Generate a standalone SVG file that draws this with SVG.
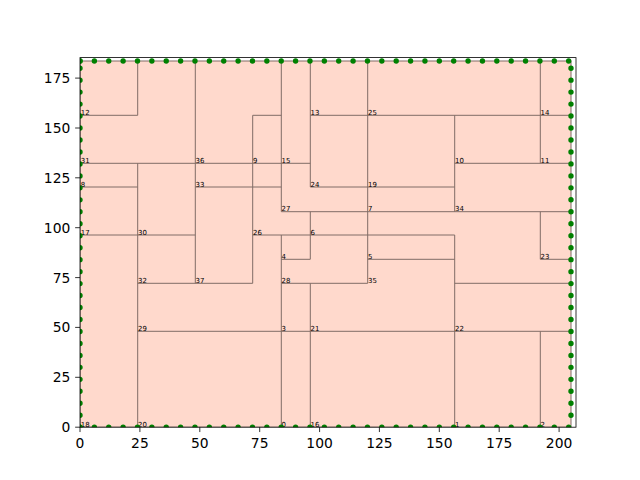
<svg xmlns="http://www.w3.org/2000/svg" width="640" height="480" viewBox="0 0 640 480">
<style>
.lbl{font-family:"DejaVu Sans",sans-serif;font-size:6.94px;fill:#000}
.tick{font-family:"DejaVu Sans",sans-serif;font-size:13.89px;fill:#000}
.wall{fill:none;stroke:#806C66;stroke-width:1}
.dots{fill:none;stroke:#008000;stroke-width:5.4;stroke-linecap:round}
</style>
<defs>
<clipPath id="axclip"><rect x="80" y="57.6" width="496" height="369.6"/></clipPath>
</defs>
<rect width="640" height="480" fill="#fff"/>
<g id="plan" clip-path="url(#axclip)">
<rect id="floor" x="80" y="61" width="491" height="366.2" fill="#FFD9CC" stroke="#806C66" stroke-width="1"/>
<path class="wall" d="M80 115.3H137.7M252.7 115.3H281.3M310.3 115.3H571
M80 163.3H310.3M454.7 163.3H571
M80 187H137.7M195.3 187H281.3M310.3 187H454.7
M281.3 211.7H571
M80 235H195.3M252.7 235H454.7
M281.3 259.3H310.3M367.7 259.3H454.7M540.3 259.3H571
M137.7 283.3H252.7M281.3 283.3H367.7M454.7 283.3H571
M137.7 331.3H571
M137.7 61V115.3M137.7 163.3V427.2
M195.3 61V283.3
M252.7 115.3V283.3
M281.3 61V211.7M281.3 235V427.2
M310.3 61V187M310.3 211.7V259.3M310.3 283.3V427.2
M367.7 61V283.3
M454.7 115.3V211.7M454.7 235V427.2
M540.3 61V163.3M540.3 211.7V259.3M540.3 331.3V427.2"/>
<g id="labels">
<g id="n12"><text class="lbl" x="80.8" y="115">12</text></g>
<g id="n31"><text class="lbl" x="80.8" y="163">31</text></g>
<g id="n8"><text class="lbl" x="80.8" y="186.7">8</text></g>
<g id="n17"><text class="lbl" x="80.8" y="234.7">17</text></g>
<g id="n18"><text class="lbl" x="80.8" y="426.8">18</text></g>
<g id="n36"><text class="lbl" x="195.6" y="163">36</text></g>
<g id="n33"><text class="lbl" x="195.6" y="186.7">33</text></g>
<g id="n30"><text class="lbl" x="138" y="234.7">30</text></g>
<g id="n32"><text class="lbl" x="138" y="283">32</text></g>
<g id="n37"><text class="lbl" x="195.6" y="283">37</text></g>
<g id="n29"><text class="lbl" x="138" y="331">29</text></g>
<g id="n20"><text class="lbl" x="138" y="426.8">20</text></g>
<g id="n9"><text class="lbl" x="253" y="163">9</text></g>
<g id="n26"><text class="lbl" x="253" y="234.7">26</text></g>
<g id="n15"><text class="lbl" x="281.6" y="163">15</text></g>
<g id="n27"><text class="lbl" x="281.6" y="211.4">27</text></g>
<g id="n4"><text class="lbl" x="281.6" y="259">4</text></g>
<g id="n28"><text class="lbl" x="281.6" y="283">28</text></g>
<g id="n3"><text class="lbl" x="281.6" y="331">3</text></g>
<g id="n0"><text class="lbl" x="281.6" y="426.8">0</text></g>
<g id="n13"><text class="lbl" x="310.6" y="115">13</text></g>
<g id="n24"><text class="lbl" x="310.6" y="186.7">24</text></g>
<g id="n6"><text class="lbl" x="310.6" y="234.7">6</text></g>
<g id="n21"><text class="lbl" x="310.6" y="331">21</text></g>
<g id="n16"><text class="lbl" x="310.6" y="426.8">16</text></g>
<g id="n25"><text class="lbl" x="368" y="115">25</text></g>
<g id="n19"><text class="lbl" x="368" y="186.7">19</text></g>
<g id="n7"><text class="lbl" x="368" y="211.4">7</text></g>
<g id="n5"><text class="lbl" x="368" y="259">5</text></g>
<g id="n35"><text class="lbl" x="368" y="283">35</text></g>
<g id="n10"><text class="lbl" x="455" y="163">10</text></g>
<g id="n34"><text class="lbl" x="455" y="211.4">34</text></g>
<g id="n22"><text class="lbl" x="455" y="331">22</text></g>
<g id="n1"><text class="lbl" x="455" y="426.8">1</text></g>
<g id="n14"><text class="lbl" x="540.6" y="115">14</text></g>
<g id="n11"><text class="lbl" x="540.6" y="163">11</text></g>
<g id="n23"><text class="lbl" x="540.6" y="259">23</text></g>
<g id="n2"><text class="lbl" x="540.6" y="426.8">2</text></g>
</g>
<g id="boundary-points">
<path class="dots" stroke-dasharray="0 14.373" d="M80 61H569"/>
<path class="dots" stroke-dasharray="0 14.373" d="M80 427.2H569"/>
<path class="dots" stroke-dasharray="0 11.967" d="M80 427.2V67"/>
<path class="dots" stroke-dasharray="0 11.967" d="M571 415.23V67"/>
<path class="dots" d="M80 61h0"/>
</g>
</g>
<g id="axes" fill="none" stroke="#000" stroke-width="0.8">
<rect x="80" y="57.6" width="496" height="369.6"/>
<path d="M80 427.2v4.86M139.9 427.2v4.86M199.8 427.2v4.86M259.7 427.2v4.86M319.6 427.2v4.86M379.4 427.2v4.86M439.3 427.2v4.86M499.2 427.2v4.86M559.1 427.2v4.86
M80 427.2h-4.86M80 377.3h-4.86M80 327.4h-4.86M80 277.6h-4.86M80 227.7h-4.86M80 177.8h-4.86M80 128h-4.86M80 78.1h-4.86"/>
</g>
<g id="xticklabels" class="tick" text-anchor="middle">
<text class="tick" x="80" y="447.5">0</text>
<text class="tick" x="139.9" y="447.5">25</text>
<text class="tick" x="199.8" y="447.5">50</text>
<text class="tick" x="259.7" y="447.5">75</text>
<text class="tick" x="319.6" y="447.5">100</text>
<text class="tick" x="379.4" y="447.5">125</text>
<text class="tick" x="439.3" y="447.5">150</text>
<text class="tick" x="499.2" y="447.5">175</text>
<text class="tick" x="559.1" y="447.5">200</text>
</g>
<g id="yticklabels" text-anchor="end">
<text class="tick" x="70.3" y="432.2">0</text>
<text class="tick" x="70.3" y="382.3">25</text>
<text class="tick" x="70.3" y="332.4">50</text>
<text class="tick" x="70.3" y="282.6">75</text>
<text class="tick" x="70.3" y="232.7">100</text>
<text class="tick" x="70.3" y="182.8">125</text>
<text class="tick" x="70.3" y="133">150</text>
<text class="tick" x="70.3" y="83.1">175</text>
</g>
</svg>
